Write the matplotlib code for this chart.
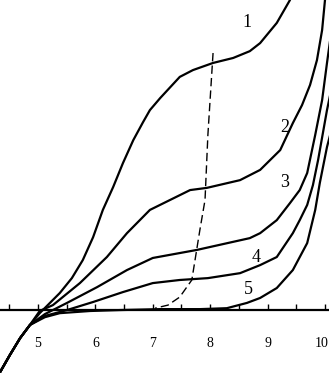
import matplotlib
matplotlib.use("Agg")
import matplotlib.pyplot as plt

# shared start of all curves (bottom left)
x0=[4.34,4.51,4.69,4.86]
y0=[-2.0,-1.45,-0.90,-0.48]

x1=[5.03,5.38,5.59,5.78,5.96,6.13,6.31,6.48,6.66,6.83,6.95,7.13,7.47,7.70,8.05,8.40,8.69,8.87,9.16,9.39,9.45]
y1=[-0.10,0.55,1.03,1.61,2.35,3.23,3.97,4.74,5.48,6.06,6.45,6.84,7.52,7.74,7.97,8.13,8.35,8.61,9.26,10.0,10.4]

x2=[5.03,5.26,5.73,6.20,6.55,6.95,7.30,7.65,7.94,8.52,8.87,9.22,9.44,9.60,9.74,9.86,9.95,10.00,10.02]
y2=[-0.03,0.16,0.87,1.71,2.48,3.23,3.55,3.87,3.94,4.19,4.52,5.16,6.03,6.61,7.26,8.06,9.03,10.0,10.4]

x3=[5.12,5.505,6.03,6.55,7.00,7.77,8.69,8.87,9.16,9.39,9.56,9.69,9.83,9.95,10.035,10.09]
y3=[-0.13,0.23,0.74,1.29,1.68,1.94,2.32,2.48,2.90,3.45,3.87,4.42,5.65,6.77,7.97,8.71]

x4=[5.12,5.505,5.96,6.48,7.00,7.47,7.96,8.52,8.87,9.16,9.44,9.56,9.69,9.79,9.88,10.035,10.09]
y4=[-0.19,0.0,0.26,0.58,0.87,0.97,1.03,1.19,1.45,1.71,2.48,2.90,3.39,4.03,4.84,6.45,6.94]

x5=[5.12,5.38,5.91,6.43,7.13,7.82,8.29,8.64,8.87,9.16,9.44,9.69,9.83,9.91,10.035,10.09]
y5=[-0.23,-0.10,-0.03,0.0,0.03,0.03,0.06,0.23,0.39,0.71,1.29,2.16,3.23,4.10,5.26,5.65]

xd=[8.05,7.96,7.91,7.82,7.68,7.47,7.265,7.04]
yd=[8.29,5.65,3.55,2.58,0.97,0.42,0.16,0.06]

ticks=[4.5,5,5.5,6,6.5,7,7.5,8,8.5,9,9.5,10]
tick_labels=['5','6','7','8','9','10']
label_pos=[5,6,7,8,9,10.07]

curve_labels=['1','2','3','4','5']
curve_label_x=[8.64,9.30,9.30,8.80,8.66]
curve_label_y=[9.29,5.90,4.13,1.68,0.65]

fig=plt.figure(figsize=(3.29,3.73),dpi=100)
ax=fig.add_axes((0,0,1,1))
ax.set_xlim(4.338,10.07)
ax.set_ylim(-2.03,10.0)
ax.axis('off')

for xs,ys in [(x1,y1),(x2,y2),(x3,y3),(x4,y4),(x5,y5)]:
    ax.plot(x0+xs,y0+ys,color='black',linewidth=1.6,solid_joinstyle='round',solid_capstyle='round')
ax.plot(xd,yd,color='black',linewidth=1.0,linestyle=(0,(6,3)))

ax.axhline(0,color='black',linewidth=1.6)
ax.vlines(ticks,0,0.2,color='black',linewidth=1.0)
for p,t in zip(label_pos,tick_labels):
    ax.text(p,-1.08,t,ha='right' if t=='10' else 'center',va='center',fontsize=10,family='Liberation Serif')
for t,x,y in zip(curve_labels,curve_label_x,curve_label_y):
    ax.text(x,y,t,ha='center',va='center',fontsize=13,family='Liberation Serif')

fig.savefig('out.png',dpi=100)
